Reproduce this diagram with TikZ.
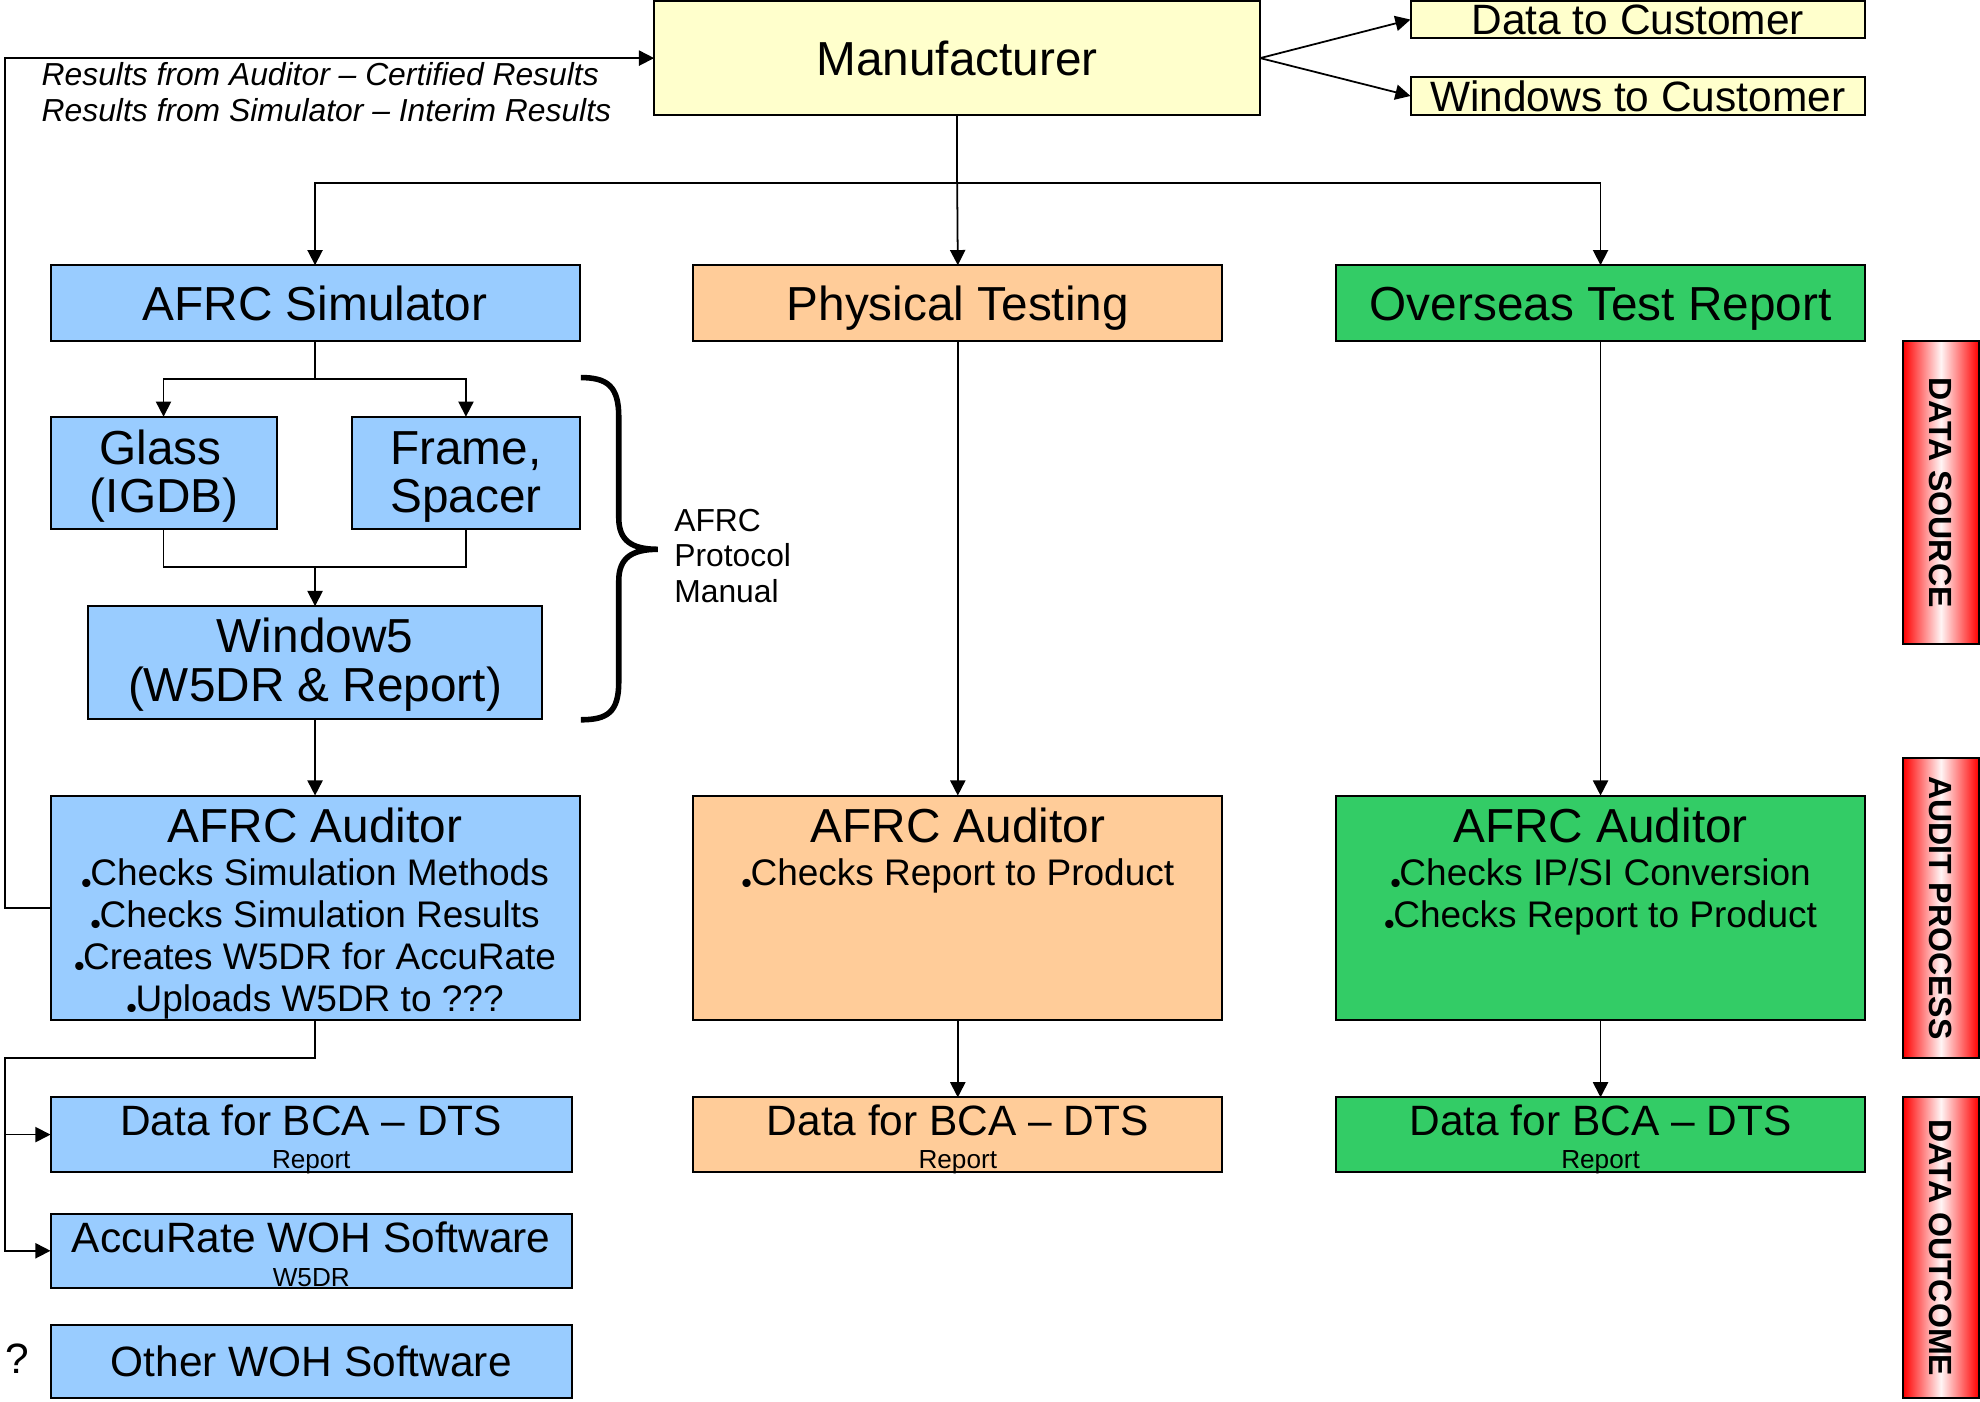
\documentclass[tikz,border=0pt]{standalone}
\usepackage{fontspec}
\setmainfont{Liberation Sans}
\usetikzlibrary{arrows.meta}
\definecolor{cblue}{HTML}{99CCFF}
\definecolor{corange}{HTML}{FFCC99}
\definecolor{cgreen}{HTML}{33CC66}
\definecolor{cyellow}{HTML}{FFFFCC}
\newcommand\fsz[1]{\fontsize{#1}{#1}\selectfont}
\newcommand\bul{\raisebox{-2.9pt}{\fontsize{12}{12}\selectfont\textbullet}\hspace{-0.6pt}}
\begin{document}
\begin{tikzpicture}[x=0.5pt,y=-0.5pt,
  box/.style={draw=black, line width=0.8pt, inner sep=0pt, outer sep=0pt, rectangle},
  arr/.style={line width=0.7pt, -{Triangle[length=6pt,width=6pt]}},
  ln/.style={line width=0.7pt},
  txt/.style={inner sep=0pt, outer sep=0pt},
  big/.style={txt, font=\fsz{18.9}},
  bigc/.style={font=\fsz{18.9}, text height=13.5pt, text depth=0pt},
  mid/.style={txt, font=\fsz{16.8}},
  midc/.style={font=\fsz{16.8}, text height=12pt, text depth=0pt},
  bulf/.style={txt, font=\fsz{14.65}},
  small/.style={txt, font=\fsz{10.35}},
  note/.style={txt, font=\fsz{12.6}},
  redbox/.style={draw=black, line width=0.8pt, inner sep=0pt, left color=red, right color=red, middle color=red!4, minimum width=30pt},
  redlab/.style={txt, rotate=-90, font=\bfseries\fsz{12.7}},
  wide/.style={minimum width=209.5pt},
  wideb/.style={minimum width=206.5pt}
]
\useasboundingbox (0,0) rectangle (1568,1109.5);

% top row
\node[box, fill=cyellow, minimum width=240pt, minimum height=45pt, bigc] (man) at (758,46) {Manufacturer};
\node[box, fill=cyellow, minimum width=180pt, minimum height=14.5pt, midc] (dtc) at (1297,15.5) {Data to Customer};
\node[box, fill=cyellow, minimum width=180pt, minimum height=15pt, midc] (wtc) at (1297,76) {Windows to Customer};

\node[note, anchor=base west] (res1) at (33,68) {\itshape Results from Auditor -- Certified Results};
\node[note, anchor=base west] (res2) at (33,96) {\itshape Results from Simulator -- Interim Results};

% second row
\node[box, fill=cblue, wide, minimum height=30pt, bigc] (sim) at (249.5,240) {AFRC Simulator};
\node[box, fill=corange, wide, minimum height=30pt, bigc] (phy) at (758.5,240) {Physical Testing};
\node[box, fill=cgreen, wide, minimum height=30pt, bigc] (ovs) at (1267.5,240) {Overseas Test Report};

% glass / frame / window5
\node[box, fill=cblue, minimum width=89.5pt, minimum height=44.5pt] (glass) at (129.5,374.5) {};
\node[big, anchor=base] (glass-a) at (127,367.5) {Glass};
\node[big, anchor=base] (glass-b) at (130,405.5) {(IGDB)};
\node[box, fill=cblue, minimum width=90pt, minimum height=44.5pt] (frame) at (369,374.5) {};
\node[big, anchor=base] (frame-a) at (369,367.5) {Frame,};
\node[big, anchor=base] (frame-b) at (369,405.5) {Spacer};
\node[box, fill=cblue, minimum width=179.5pt, minimum height=44.5pt] (w5) at (249.5,524.5) {};
\node[big, anchor=base] (w5-a) at (249.5,516.5) {Window5};
\node[big, anchor=base] (w5-b) at (249.5,555.5) {(W5DR \& Report)};

% auditors
\node[box, fill=cblue, wide, minimum height=89pt] (audA) at (249.5,719) {};
\node[big, anchor=base] (audA-t) at (249.5,667.5) {AFRC Auditor};
\node[bulf, anchor=base] (audA-1) at (249.5,701.5) {\bul Checks Simulation Methods};
\node[bulf, anchor=base] (audA-2) at (249.5,734.5) {\bul Checks Simulation Results};
\node[bulf, anchor=base] (audA-3) at (249.5,767.5) {\bul Creates W5DR for AccuRate};
\node[bulf, anchor=base] (audA-4) at (249.5,801) {\bul Uploads W5DR to ???};

\node[box, fill=corange, wide, minimum height=89pt] (audB) at (758.5,719) {};
\node[big, anchor=base] (audB-t) at (758.5,667.5) {AFRC Auditor};
\node[bulf, anchor=base] (audB-1) at (758.5,701.5) {\bul Checks Report to Product};

\node[box, fill=cgreen, wide, minimum height=89pt] (audC) at (1267.5,719) {};
\node[big, anchor=base] (audC-t) at (1267.5,667.5) {AFRC Auditor};
\node[bulf, anchor=base] (audC-1) at (1267.5,701.5) {\bul Checks IP/SI Conversion};
\node[bulf, anchor=base] (audC-2) at (1267.5,734.5) {\bul Checks Report to Product};

% outcomes
\node[box, fill=cblue, wideb, minimum height=29.5pt] (dataA) at (246.5,898.5) {};
\node[mid, anchor=base] (dataA-t) at (246.5,899) {Data for BCA -- DTS};
\node[small, anchor=base] (dataA-s) at (246.5,925.5) {Report};
\node[box, fill=corange, wide, minimum height=29.5pt] (dataB) at (758.5,898.5) {};
\node[mid, anchor=base] (dataB-t) at (758.5,899) {Data for BCA -- DTS};
\node[small, anchor=base] (dataB-s) at (758.5,925.5) {Report};
\node[box, fill=cgreen, wide, minimum height=29.5pt] (dataC) at (1267.5,898.5) {};
\node[mid, anchor=base] (dataC-t) at (1267.5,899) {Data for BCA -- DTS};
\node[small, anchor=base] (dataC-s) at (1267.5,925.5) {Report};

\node[box, fill=cblue, wideb, minimum height=29.5pt] (accu) at (246.5,990.5) {};
\node[mid, anchor=base] (accu-t) at (246.5,992) {AccuRate WOH Software};
\node[small, anchor=base] (accu-s) at (246.5,1019) {W5DR};
\node[box, fill=cblue, wideb, minimum height=29pt, midc] (other) at (246.5,1078) {Other WOH Software};
\node[mid, anchor=base] (qm) at (14,1088) {?};

% brace and protocol text
\draw[line width=2.2pt] (460,299) .. controls (481,299) and (490,306) .. (490,330) -- (490,410)
  .. controls (490,428) and (500,435) .. (521,435)
  .. controls (500,435) and (490,442) .. (490,460) -- (490,540)
  .. controls (490,564) and (481,570) .. (460,570);
\node[note, anchor=base west] (prot-a) at (534,421) {AFRC};
\node[note, anchor=base west] (prot-b) at (534,449) {Protocol};
\node[note, anchor=base west] (prot-c) at (534,477) {Manual};

% red side bars
\node[redbox, minimum height=120pt] (rs) at (1537,390) {};
\node[redlab] (rs-t) at (1537,390) {DATA SOURCE};
\node[redbox, minimum height=119pt] (ra) at (1537,719) {};
\node[redlab] (ra-t) at (1537,719) {AUDIT PROCESS};
\node[redbox, minimum height=119pt] (ro) at (1537,988) {};
\node[redlab] (ro-t) at (1537,988) {DATA OUTCOME};

% connectors
\draw[arr] (man.east) -- (dtc.west);
\draw[arr] (man.east) -- (wtc.west);
\coordinate (j1) at (758,145);
\draw[ln] (man.south) -- (j1);
\draw[arr] (j1) -| (sim.north);
\draw[arr] (j1) -- (phy.north);
\draw[arr] (j1) -| (ovs.north);

\coordinate (j2) at (249.5,300);
\draw[ln] (sim.south) -- (j2);
\draw[arr] (j2) -| (glass.north);
\draw[arr] (j2) -| (frame.north);
\coordinate (j3) at (249.5,449);
\draw[ln] (glass.south) |- (j3) -| (frame.south);
\draw[arr] (j3) -- (w5.north);
\draw[arr] (w5.south) -- (audA.north);

\coordinate (fb) at (4,719);
\draw[arr] (audA.west) -- (fb) |- (man.west);

\coordinate (j5) at (4,838);
\draw[arr] (audA.south) |- (j5) |- (dataA.west);
\draw[arr] (j5) |- (accu.west);

\draw[arr] (phy.south) -- (audB.north);
\draw[arr] (audB.south) -- (dataB.north);
\draw[arr] (ovs.south) -- (audC.north);
\draw[arr] (audC.south) -- (dataC.north);
\end{tikzpicture}
\end{document}
